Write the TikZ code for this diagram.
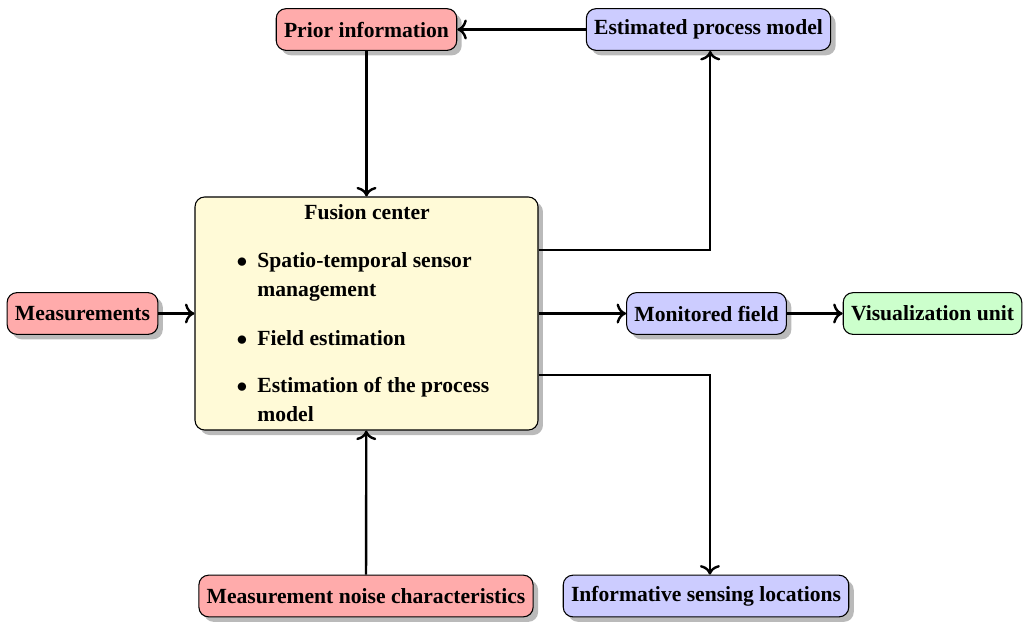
\documentclass[tikz,border=0pt]{standalone}
\usepackage{fontspec}
\setmainfont{Liberation Serif}
\usetikzlibrary{shadows,arrows.meta}
\begin{document}
\begin{tikzpicture}[x=0.463pt,y=-0.463pt,
  box/.style={draw=black, rounded corners=4.5pt, font=\bfseries, inner xsep=3.6pt, inner ysep=0pt, minimum height=19.3pt, line width=0.5pt},
  shd/.style={drop shadow={fill=black!27, opacity=1, shadow xshift=2.3pt, shadow yshift=-2.3pt}},
  redbox/.style={box, shd, fill=red!33},
  bluebox/.style={box, shd, fill=blue!20},
  greenbox/.style={box, fill=green!20},
  fusionbox/.style={box, shd, fill={rgb,255:red,255;green,250;blue,215}, minimum width=158.8pt, minimum height=107.9pt},
  conn/.style={-{Computer Modern Rightarrow[scale=1.1]}, line width=1.1pt},
  txt/.style={anchor=base west, inner sep=0pt, font=\bfseries},
  bul/.style={anchor=base, inner sep=0pt, font=\bfseries}
]
\useasboundingbox (0,0) rectangle (1029,621);

\node[redbox] (prior) at (366.5,29.5) {Prior information};
\node[bluebox] (est) at (708.5,29.5) {Estimated process model};
\node[redbox] (meas) at (82.5,313.5) {Measurements};
\node[bluebox] (mon) at (706.5,313.5) {Monitored field};
\node[greenbox] (vis) at (932.5,313.5) {Visualization unit};
\node[redbox] (noise) at (366,596) {Measurement noise characteristics};
\node[bluebox] (inf) at (706,596) {Informative sensing locations};
\node[fusionbox] (fus) at (366.5,313.5) {};

\node[anchor=base, inner sep=0pt, font=\bfseries] (title) at (367,219) {Fusion center};
\node[bul] (b1) at (242,267) {$\bullet$};
\node[bul] (b2) at (242,345) {$\bullet$};
\node[bul] (b3) at (242,392) {$\bullet$};
\node[txt] (l1) at (257,267) {Spatio-temporal sensor};
\node[txt] (l2) at (257,296) {management};
\node[txt] (l3) at (257,345) {Field estimation};
\node[txt] (l4) at (257,392) {Estimation of the process};
\node[txt] (l5) at (257,421) {model};

\draw[conn] (est) -- (prior);
\draw[conn] (prior) -- (fus);
\draw[conn] (fus.east |- 0,250) -| ([xshift=0.8pt]est.south);
\draw[conn] (meas) -- (fus);
\draw[conn] (fus) -- (mon);
\draw[conn] (mon) -- (vis);
\draw[conn] (fus.east |- 0,375) -| ([xshift=1.8pt]inf.north);
\draw[conn] (noise) -- (fus);
\end{tikzpicture}
\end{document}
